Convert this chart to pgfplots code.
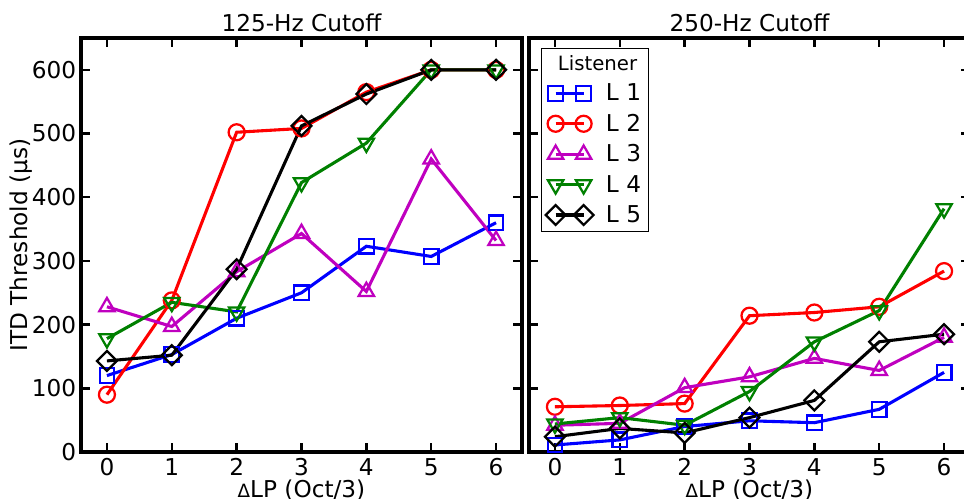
\documentclass[border=0pt]{standalone}
\usepackage{fontspec}
\setmainfont{DejaVu Sans}
\usepackage{pgfplots}
\pgfplotsset{compat=1.18}
\newcommand\fs{\fontsize{16.5pt}{19pt}\selectfont}

\pgfplotsset{
  panel/.style={
    width=11.025cm, height=10.35cm, scale only axis,
    xmin=-0.4, xmax=6.4, ymin=0, ymax=650,
    xtick={0,...,6}, ytick={0,100,...,600},
    tick align=inside, major tick length=0.22cm,
    axis line style={line width=2.4pt},
    every tick/.style={black, line width=1.7pt},
    font=\fs, title style={font=\fs, yshift=-5pt},
    /pgf/number format/assume math mode=true,
    xlabel={{\fontsize{13pt}{15pt}\selectfont Δ}LP (Oct/3)},
    xlabel style={yshift=0.15cm},
    xticklabel style={yshift=-1pt},
    clip=false,
  },
  L1/.style={blue, line width=2.2pt, mark=square, mark size=5.2pt, mark options={line width=1.6pt, fill=none}},
  L2/.style={red, line width=2.2pt, mark=o, mark size=5.7pt, mark options={line width=1.6pt, fill=none}},
  L3/.style={color={rgb,1:red,0.75;green,0;blue,0.75}, line width=2.2pt, mark=triangle, mark size=6.3pt, mark options={line width=1.6pt, fill=none}},
  L4/.style={color={rgb,1:red,0;green,0.5;blue,0}, line width=2.2pt, mark=triangle, mark size=6.3pt, mark options={line width=1.6pt, fill=none, rotate=180}},
  L5/.style={black, line width=2.2pt, mark=square, mark size=5pt, mark options={line width=1.6pt, fill=none, rotate=45}},
}

\begin{document}
\begin{tikzpicture}
% 125-Hz panel
\begin{axis}[panel, name=pa,
    title={125-Hz Cutoff},
    ylabel={ITD Threshold (µs)},
    ylabel style={yshift=-0.25cm},
]
\addplot[L1] coordinates {(0,120) (1,153) (2,210) (3,250) (4,323) (5,307) (6,360)};
\addplot[L2] coordinates {(0,90) (1,238) (2,502) (3,508) (4,565) (5,600) (6,600)};
\addplot[L3] coordinates {(0,228) (1,197) (2,283) (3,343) (4,252) (5,460) (6,332)};
\addplot[L4] coordinates {(0,178) (1,235) (2,220) (3,423) (4,485) (5,600) (6,600)};
\addplot[L5] coordinates {(0,143) (1,152) (2,287) (3,512) (4,562) (5,600) (6,600)};
\end{axis}

% 250-Hz panel
\begin{axis}[panel, name=pb,
    at={(pa.south east)}, anchor=south west, xshift=0.175cm,
    title={250-Hz Cutoff},
    yticklabels={},
    legend cell align=left,
    legend style={at={(0.027,0.976)}, anchor=north west, draw=black,
      line width=0.8pt, font=\fs, row sep=4pt, inner sep=3pt},
    legend image code/.code={\draw[#1] plot coordinates {(0cm,0cm) (0.7cm,0cm)}; \path (1.15cm,0cm);},
]
\addlegendimage{empty legend}
\addlegendentry{\hspace{-1.2cm}{\fontsize{14pt}{16pt}\selectfont Listener}}
\addplot[L1] coordinates {(0,11) (1,19) (2,40) (3,49) (4,46) (5,67) (6,125)};
\addlegendentry{L 1\hspace{2pt}}
\addplot[L2] coordinates {(0,71) (1,73) (2,76) (3,214) (4,219) (5,228) (6,284)};
\addlegendentry{L 2}
\addplot[L3] coordinates {(0,42) (1,45) (2,101) (3,118) (4,147) (5,128) (6,180)};
\addlegendentry{L 3}
\addplot[L4] coordinates {(0,44) (1,54) (2,42) (3,95) (4,173) (5,222) (6,382)};
\addlegendentry{L 4}
\addplot[L5] coordinates {(0,24) (1,37) (2,30) (3,54) (4,81) (5,173) (6,185)};
\addlegendentry{L 5}
\end{axis}

\pgfresetboundingbox
\useasboundingbox ([xshift=-2.025cm, yshift=-1.15cm]pa.south west) rectangle ([xshift=10.875cm, yshift=0.95cm]pb.north west);
\end{tikzpicture}
\end{document}
